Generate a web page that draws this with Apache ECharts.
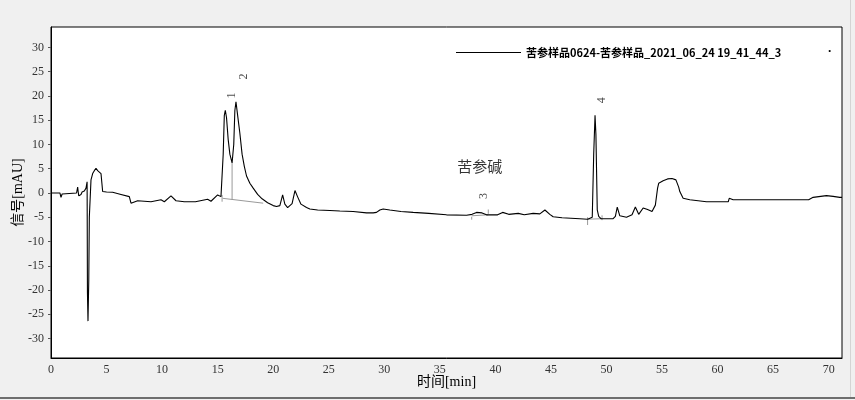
<!DOCTYPE html>
<html>
<head>
<meta charset="utf-8">
<script src="https://cdn.jsdelivr.net/npm/echarts@6/dist/echarts.min.js"></script>
<style>
html,body{margin:0;padding:0;background:#f0f0f0;}
#wrap{position:relative;width:855px;height:400px;overflow:hidden;}
#chart{position:absolute;left:0;top:0;width:855px;height:400px;}
#bline{position:absolute;left:0;top:397px;width:855px;height:2px;background:#6e6e6e;}
#rline{position:absolute;left:850px;top:0;width:1px;height:397px;background:#d4d4d4;}
</style>
</head>
<body>
<div id="wrap"><div id="chart"></div><div id="bline"></div><div id="rline"></div></div>
<script>
// Retention time (min)
const times = [0,0.8,0.9,1.0,1.1,2.3,2.4,2.45,2.5,2.7,2.8,3.0,3.15,3.25,3.28,3.33,3.4,3.45,3.6,3.75,3.9,4.05,4.2,4.35,4.5,4.65,5.0,5.55,6.3,7.05,7.2,7.8,9.0,9.9,10.2,10.8,11.25,12.0,13.0,14.1,14.4,15.0,15.3,15.45,15.5,15.6,15.69,15.8,15.95,16.1,16.3,16.45,16.55,16.65,16.8,17.0,17.2,17.4,17.6,17.9,18.2,18.6,19.0,19.5,20.0,20.3,20.6,20.85,21.05,21.3,21.45,21.7,21.96,22.2,22.5,23.0,23.3,24.0,25.1,26.0,27.2,28.4,29.0,29.3,29.6,29.9,30.5,31.5,32.6,34.0,35.6,37.4,37.9,38.3,38.8,39.2,39.5,40.2,40.65,41.2,42.06,42.6,43.4,44.0,44.46,44.9,45.2,46.0,46.8,47.6,48.3,48.72,48.85,48.97,49.05,49.17,49.3,49.5,50.0,50.6,50.8,50.97,51.2,51.8,52.3,52.45,52.6,52.9,53.3,53.7,54.1,54.4,54.6,54.7,55.1,55.5,55.9,56.25,56.5,56.6,56.9,57.5,59.0,60.96,61.05,61.4,68.2,68.6,69.8,70.4,71.0,71.2];
// Signal (mAU)
const signal = [0,0,-0.9,-0.2,0,0,1.2,0.2,-0.6,-0.3,0.2,0.4,1.0,2.3,-20.5,-26.4,-18,-5,2.7,4.0,4.6,5.1,4.6,4.4,4.0,0.3,0.2,0.15,-0.3,-0.75,-2.1,-1.6,-1.8,-1.4,-1.8,-0.6,-1.6,-1.8,-1.8,-1.3,-1.7,-0.4,-0.75,-0.5,8,16,17.05,15.5,11,8,6.2,10,17,18.8,16,12.3,8,5.5,3.5,2.0,1.0,-0.3,-1.2,-2.0,-2.6,-2.8,-2.6,-0.4,-2.3,-3.0,-3.1,-2.2,0.5,-0.8,-2.3,-3.0,-3.3,-3.5,-3.6,-3.7,-3.8,-4.1,-4.1,-4.0,-3.5,-3.3,-3.5,-3.8,-4.0,-4.2,-4.5,-4.6,-4.4,-4.0,-4.1,-4.5,-4.5,-4.5,-4.0,-4.4,-4.2,-4.5,-4.2,-4.3,-3.5,-4.4,-4.9,-5.1,-5.2,-5.3,-5.4,-5.0,8,16.0,12,-3.5,-4.8,-5.3,-5.3,-5.3,-4.8,-2.9,-4.7,-5.0,-4.5,-4.6,-2.9,-4.4,-3.1,-3.4,-3.8,-2.5,1.0,2.0,2.5,2.9,3.0,2.7,1.2,0.3,-1.1,-1.4,-1.8,-1.8,-1.1,-1.4,-1.4,-0.9,-0.55,-0.7,-0.9,-0.9];

// Integration baselines (gray), null separates segments
const baseX = [15.45,19.1,null,16.3,16.3,null,15.4,15.4,null,37.87,39.36,null,37.87,37.87,null,39.36,39.36,null,48.3,49.6,null,48.3,48.3,null,49.6,49.6];
const baseY = [-1.1,-2.1,null,-1.4,6.2,null,-0.4,-1.8,null,-4.7,-4.5,null,-4.9,-5.5,null,-3.4,-4.3,null,-5.4,-5.3,null,-5.0,-6.6,null,-4.6,-5.6];

// Peak labels
const peakNames = ['1','2','3','4'];
const peakLabelX = [16.32,17.37,39.0,49.6];
const peakLabelY = [20.1,24.0,-0.6,19.1];
// Compound annotation
const compoundName = ['苦参碱'];
const compoundX = [38.6];
const compoundY = [5.4];

const yTicks = [-30,-25,-20,-15,-10,-5,0,5,10,15,20,25,30];
const xTicks = [0,5,10,15,20,25,30,35,40,45,50,55,60,65,70];

const seriesName = '苦参样品0624-苦参样品_2021_06_24 19_41_44_3';

const lineData = times.map((t,i)=>[t,signal[i]]);
const baseData = baseX.map((t,i)=> t===null ? [null,null] : [t,baseY[i]]);
const peakData = peakNames.map((n,i)=>({name:n,value:[peakLabelX[i],peakLabelY[i]]}));
const compData = compoundName.map((n,i)=>({name:n,value:[compoundX[i],compoundY[i]]}));

const chart = echarts.init(document.getElementById('chart'), null, {renderer:'canvas'});
const serif = '"Liberation Serif","Times New Roman",serif';
const nameFont = '"Liberation Serif","Noto Sans CJK SC",serif';
chart.setOption({
  animation:false,
  backgroundColor:'#f0f0f0',
  grid:{left:51,top:27,right:13,bottom:42,outerBoundsMode:'none',containLabel:false,show:true,backgroundColor:'#ffffff',borderColor:'#000',borderWidth:1},
  legend:{
    data:[seriesName],
    left:451, top:42,
    itemWidth:65, itemHeight:1,
    icon:'rect',
    itemStyle:{color:'#000'},
    textStyle:{color:'#000',fontWeight:'bold',fontSize:11,fontFamily:'"Noto Sans CJK SC","Noto Sans",sans-serif'},
    itemGap:10
  },
  graphic:[{type:'text',left:828,top:43,style:{text:'.',fill:'#000',font:'bold 12px "Noto Sans"'}}],
  xAxis:{
    type:'value', min:0, max:71.2,
    name:'时间[min]', nameLocation:'middle', nameGap:17, nameMoveOverlap:false,
    nameTextStyle:{color:'#000',fontSize:14,fontFamily:nameFont},
    axisLine:{show:true,onZero:false,lineStyle:{color:'#000',width:1}},
    axisTick:{show:false},
    axisLabel:{customValues:xTicks,color:'#333',fontSize:12,fontFamily:serif,margin:6},
    splitLine:{show:false}
  },
  yAxis:{
    type:'value', min:-34, max:34.2,
    name:'信号[mAU]', nameLocation:'middle', nameGap:26, nameRotate:90, nameMoveOverlap:false,
    nameTextStyle:{color:'#000',fontSize:14,fontFamily:nameFont},
    axisLine:{show:true,onZero:false,lineStyle:{color:'#000',width:1}},
    axisTick:{show:true,customValues:yTicks,length:3,lineStyle:{color:'#555'}},
    axisLabel:{customValues:yTicks,color:'#333',fontSize:12,fontFamily:serif,margin:7},
    splitLine:{show:false}
  },
  series:[
    {name:seriesName,type:'line',data:lineData,symbol:'none',showSymbol:false,
     lineStyle:{color:'#000',width:1.1},itemStyle:{color:'#000'},z:5},
    {name:'baseline',type:'line',data:baseData,symbol:'none',connectNulls:false,
     lineStyle:{color:'#9a9a9a',width:1},z:4,silent:true},
    {name:'peaks',type:'scatter',data:peakData,symbolSize:0,silent:true,
     label:{show:true,position:'inside',formatter:'{b}',rotate:90,color:'#222',fontSize:12,fontFamily:serif}},
    {name:'compound',type:'scatter',data:compData,symbolSize:0,silent:true,
     label:{show:true,position:'inside',formatter:'{b}',color:'#000',fontSize:15,fontFamily:'"Noto Sans CJK SC",sans-serif'}}
  ]
});
</script>
</body>
</html>
